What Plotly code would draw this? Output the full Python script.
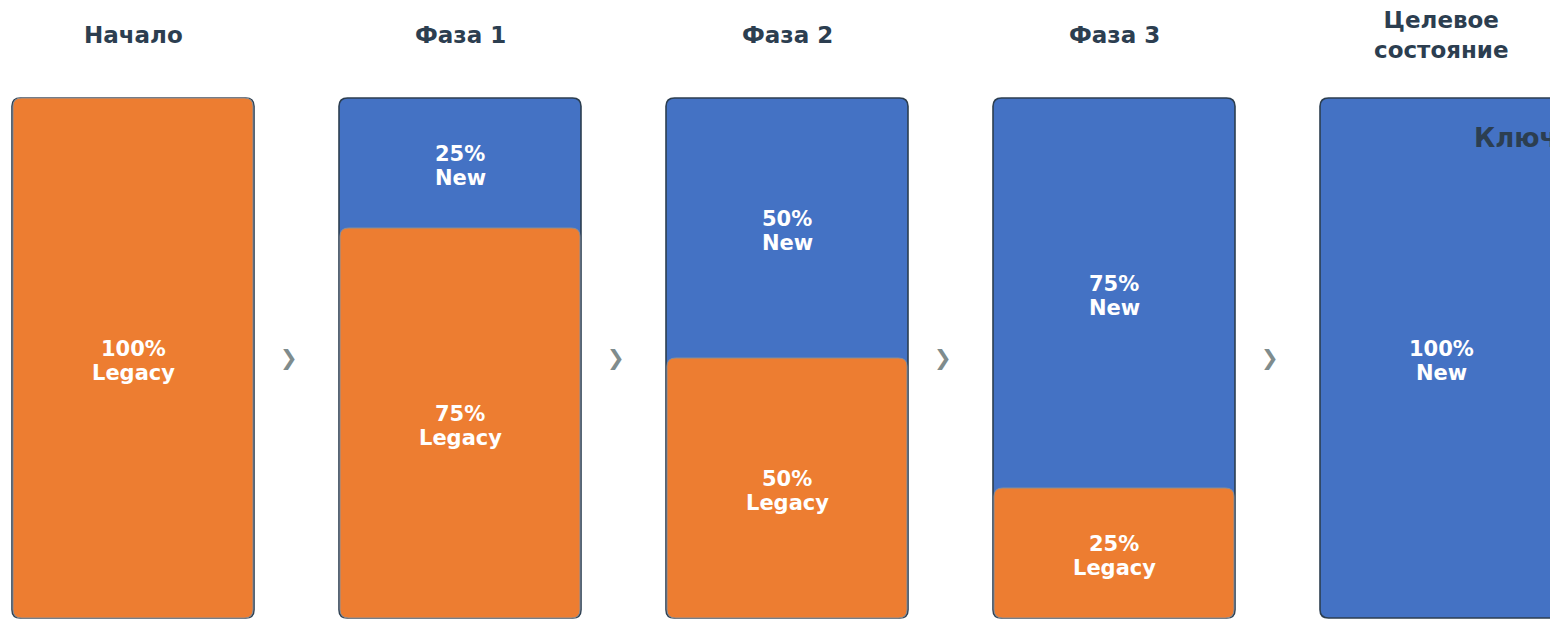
import plotly.graph_objects as go

phases = ["Начало", "Фаза 1", "Фаза 2", "Фаза 3", "Целевое<br>состояние"]
new_pct = [0, 25, 50, 75, 100]
legacy_pct = [100, 75, 50, 25, 0]
new_label = "New"
legacy_label = "Legacy"
side_title = "Ключевые этапы"

BLUE = "#4472C4"
ORANGE = "#ED7D31"
DARK = "#2C3E50"
GRAY = "#7F8C8D"
FONT = "DejaVu Sans"

HALF_W = 0.37      # half box width in phase units
RX = 0.026         # corner radius (x units)
RY = 1.6           # corner radius (y units, %)

PX_X = 327.0       # pixels per phase step
PX_Y = 5.2         # pixels per percent
W, H = 1550, 620
LINE = 12 / PX_Y   # half line spacing in y units
NUDGE = -2.5 / PX_Y


def rounded_rect(x0, x1, y0, y1, rx, ry):
    return (
        f"M {x0 + rx},{y0} L {x1 - rx},{y0} Q {x1},{y0} {x1},{y0 + ry} "
        f"L {x1},{y1 - ry} Q {x1},{y1} {x1 - rx},{y1} "
        f"L {x0 + rx},{y1} Q {x0},{y1} {x0},{y1 - ry} "
        f"L {x0},{y0 + ry} Q {x0},{y0} {x0 + rx},{y0} Z"
    )


def two_line(x, y, top, bottom):
    f = dict(family=FONT, size=21, color="white")
    return [
        dict(x=x, y=y + LINE + NUDGE, xref="x", yref="y", showarrow=False,
             text=f"<b>{top}</b>", font=f),
        dict(x=x, y=y - LINE + NUDGE, xref="x", yref="y", showarrow=False,
             text=f"<b>{bottom}</b>", font=f),
    ]


fig = go.Figure()
shapes = []
annotations = []

for i, (ph, n, l) in enumerate(zip(phases, new_pct, legacy_pct)):
    shapes.append(dict(
        type="path", xref="x", yref="y",
        path=rounded_rect(i - HALF_W, i + HALF_W, 0, n + l, RX, RY),
        fillcolor=BLUE, line=dict(color=DARK, width=1.6), layer="below",
    ))
    if l > 0:
        inset = 0.003
        shapes.append(dict(
            type="path", xref="x", yref="y",
            path=rounded_rect(i - HALF_W + inset, i + HALF_W - inset, 0, l, RX, RY),
            fillcolor=ORANGE, line=dict(color="#8a8f96", width=1), layer="below",
        ))
        annotations += two_line(i, l / 2, f"{l}%", legacy_label)
    if n > 0:
        annotations += two_line(i, l + n / 2, f"{n}%", new_label)
    annotations.append(dict(
        x=i, y=112.1, xref="x", yref="y", showarrow=False,
        text=f"<b>{ph}</b>",
        font=dict(family=FONT, size=23, color=DARK),
    ))
    if i < len(phases) - 1:
        annotations.append(dict(
            x=i + 0.477, y=50, xref="x", yref="y", showarrow=False,
            text="❯",
            font=dict(family=FONT, size=21, color=GRAY),
        ))

annotations.append(dict(
    x=4.095, y=92.3, xref="x", yref="y", showarrow=False,
    xanchor="left", text=f"<b>{side_title}</b>",
    font=dict(family=FONT, size=26, color=DARK),
))

fig.add_trace(go.Scatter(x=list(range(len(phases))), y=[50] * len(phases),
                         mode="markers", marker=dict(opacity=0), hoverinfo="skip",
                         showlegend=False))

fig.update_layout(
    width=W, height=H,
    margin=dict(l=0, r=0, t=0, b=0),
    paper_bgcolor="white", plot_bgcolor="white",
    shapes=shapes, annotations=annotations,
    xaxis=dict(range=[-133 / PX_X, (W - 133) / PX_X],
               visible=False, fixedrange=True),
    yaxis=dict(range=[(618 - H) / PX_Y, 618 / PX_Y],
               visible=False, fixedrange=True),
    showlegend=False,
)

fig.write_html(
    "out.html",
    config={"displayModeBar": False},
    post_script="document.body.style.margin='0';document.body.style.overflow='hidden';",
)
